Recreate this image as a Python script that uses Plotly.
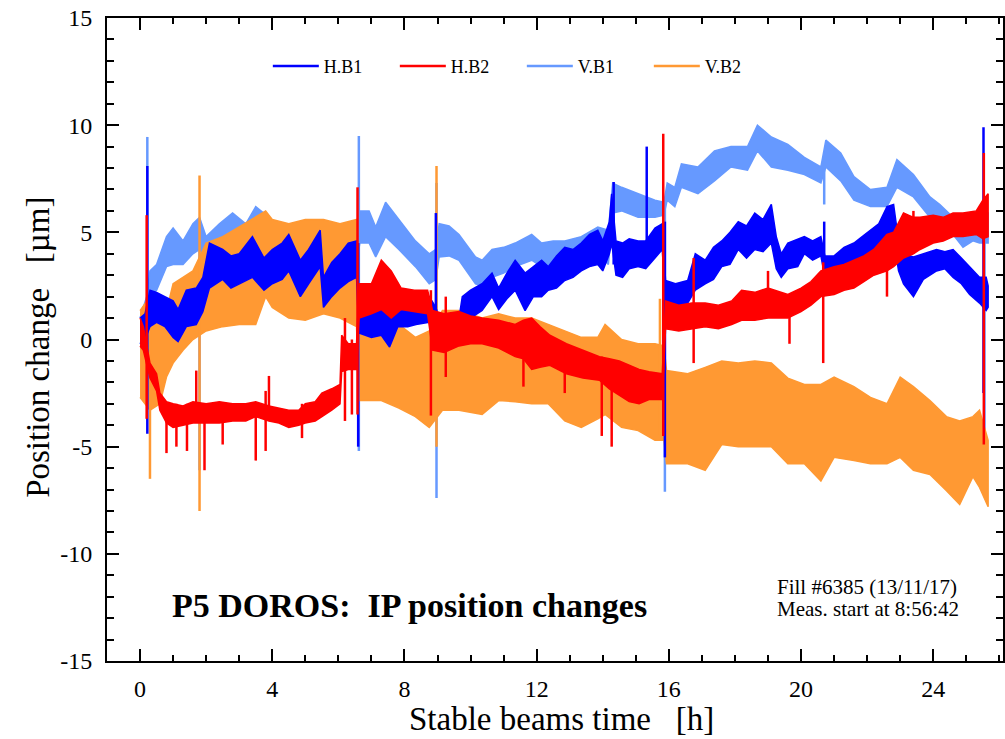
import plotly.graph_objects as go

# ---------------- data ----------------
# Each noisy trace is described by its envelope: time [h], lower and upper value [um]
hb1_t = [0.0, 0.15, 0.3, 0.5, 0.75, 1.0, 1.15, 1.4, 1.7, 1.9, 2.1, 2.5, 2.75, 3.0, 3.4, 3.75, 4.0, 4.3, 4.5,
         4.85, 5.1, 5.45, 5.55, 5.8, 6.05, 6.3, 6.55, 6.62, 7.0, 7.3, 7.55, 7.8, 8.1, 8.35, 8.75, 8.95, 9.05,
         9.4, 9.65, 9.75, 10.0, 10.35, 10.65, 10.85, 11.1, 11.35, 11.65, 11.9, 12.15, 12.35, 12.6, 12.85,
         13.1, 13.35, 13.6, 13.85, 14.0, 14.2, 14.27, 14.4, 14.6, 14.8, 15.07, 15.3, 15.58, 15.8, 15.9,
         16.2, 16.57, 16.8, 17.1, 17.35, 17.6, 17.85, 18.1, 18.35, 18.6, 18.85, 19.1, 19.25, 19.4, 19.6,
         19.9, 20.1, 20.35, 20.6, 20.72, 21.0, 21.3, 21.6, 21.85, 22.1, 22.35, 22.6, 22.8, 22.95, 23.1,
         23.4, 23.7, 24.1, 24.35, 24.6, 24.85, 25.1, 25.4, 25.6, 25.66]
hb1_lo = [-0.2, 0.0, 0.6, 0.8, 0.6, 0.1, -0.1, 0.6, 0.7, 1.3, 2.4, 2.8, 2.4, 2.6, 2.9, 2.3, 2.6, 2.8, 3.2,
          2.0, 2.6, 3.4, 1.5, 2.0, 2.4, 2.7, 2.9, 0.3, 0.1, 0.2, -0.35, 0.6, 0.6, 0.7, 0.8, 0.5, -0.5,
          -0.4, -0.2, 0.7, 1.0, 1.35, 2.0, 1.4, 1.9, 2.3, 1.35, 2.0, 2.0, 2.3, 2.4, 2.75,
          2.9, 3.2, 3.4, 3.5, 3.2, 4.0, 4.5, 3.0, 2.9, 3.3, 3.4, 3.3, 3.8, 4.2, 1.7,
          1.6, 1.7, 2.3, 2.6, 2.8, 3.4, 3.5, 4.2, 3.8, 4.2, 4.1, 4.5, 3.3, 2.9, 3.3,
          3.4, 4.0, 3.7, 3.9, 2.9, 3.0, 3.3, 3.5, 3.7, 4.0, 4.1, 4.5, 4.7, 3.2, 2.6,
          2.0, 2.8, 3.2, 3.3, 2.9, 2.6, 2.1, 1.7, 1.35, 1.5]
hb1_hi = [1.0, 1.2, 2.3, 2.2, 2.0, 1.8, 1.4, 2.3, 2.4, 2.9, 4.5, 4.2, 3.9, 4.0, 4.8, 3.8, 4.2, 4.5, 4.9,
          3.7, 4.2, 5.1, 2.9, 3.6, 4.0, 4.5, 4.6, 1.6, 1.5, 1.6, 1.0, 1.5, 1.7, 1.5, 2.0, 1.5, 1.0,
          0.9, 1.0, 2.0, 2.3, 2.6, 3.1, 2.4, 3.1, 3.7, 3.1, 3.4, 3.7, 3.4, 3.9, 4.3,
          4.2, 4.5, 4.9, 5.1, 4.6, 5.5, 6.8, 4.6, 4.5, 4.7, 4.6, 4.6, 5.2, 5.4, 2.75,
          2.6, 2.75, 4.0, 3.7, 4.3, 4.6, 5.0, 5.5, 5.3, 5.9, 5.6, 6.3, 4.8, 4.0, 4.5,
          4.7, 4.8, 4.6, 4.8, 3.9, 3.9, 4.3, 4.5, 4.8, 5.1, 5.4, 6.2, 6.3, 4.6, 4.0,
          3.85, 4.0, 4.2, 4.1, 4.2, 3.8, 3.4, 2.9, 2.9, 2.5]

hb2_t = [0.0, 0.1, 0.3, 0.5, 0.6, 0.8, 1.0, 1.3, 1.6, 2.0, 2.4, 2.8, 3.2, 3.5, 3.9, 4.2, 4.5, 4.8, 5.0, 5.3,
         5.5, 5.8, 6.05, 6.1, 6.3, 6.55, 6.63, 7.0, 7.3, 7.6, 7.9, 8.3, 8.7, 8.85, 9.2, 9.65, 10.0, 10.35,
         10.85, 11.35, 11.6, 11.85, 12.1, 12.4, 12.9, 13.4, 13.9, 14.2, 14.5, 14.8, 15.1, 15.4, 15.8,
         15.9, 16.3, 16.7, 17.1, 17.5, 17.9, 18.2, 18.6, 19.0, 19.4, 19.6, 20.0, 20.3, 20.6, 21.0, 21.3,
         21.6, 21.9, 22.2, 22.6, 22.8, 23.1, 23.4, 23.6, 24.0, 24.3, 24.6, 24.9, 25.3, 25.5, 25.66]
hb2_lo = [-0.3, -0.5, -1.8, -2.4, -3.3, -3.9, -4.1, -4.0, -3.9, -3.9, -3.9, -3.8, -3.8, -3.6, -3.8, -3.9,
          -4.1, -4.0, -3.9, -3.8, -3.6, -3.3, -3.0, -1.5, -1.4, -1.4, 1.0, 1.2, 1.4, 1.0, 1.4, 1.3, 1.2,
          -0.5, -0.6, -0.3, -0.2, -0.2, -0.4, -0.8, -0.9, -1.4, -1.3, -1.2, -1.6, -1.8, -1.9, -2.3, -2.6,
          -2.9, -3.0, -2.8, -2.8, 0.5, 0.4, 0.5, 0.6, 0.5, 0.7, 0.9, 0.9, 1.0, 1.0, 1.0, 1.3, 1.6, 2.0,
          2.1, 2.3, 2.4, 2.7, 3.0, 3.2, 3.4, 3.8, 4.0, 4.2, 4.5, 4.6, 4.8, 4.8, 4.9, 4.7, 4.8]
hb2_hi = [1.0, 0.6, -1.1, -1.6, -2.5, -2.9, -3.0, -3.1, -2.9, -3.0, -2.9, -3.0, -3.0, -2.9, -3.1, -3.2,
          -3.3, -3.3, -3.0, -2.9, -2.5, -2.3, -2.1, 0.2, -0.2, -0.2, 2.6, 2.6, 3.7, 3.2, 2.4, 2.3, 2.3,
          1.35, 1.2, 1.3, 1.1, 1.0, 0.9, 0.7, 0.9, 1.0, 0.6, 0.2, -0.2, -0.5, -0.8, -0.9, -1.0,
          -1.2, -1.4, -1.5, -1.6, 1.8, 1.6, 1.7, 1.7, 1.6, 1.8, 2.3, 2.2, 2.4, 2.2, 2.1, 2.4, 2.7, 3.2,
          3.4, 3.5, 3.7, 3.9, 4.2, 4.9, 5.0, 5.9, 5.7, 5.7, 5.8, 5.7, 5.9, 5.9, 6.0, 6.5, 6.8]

vb1_t = [0.0, 0.2, 0.3, 0.5, 0.8, 1.0, 1.3, 1.6, 1.8, 2.0, 2.4, 2.8, 3.2, 3.5, 3.9, 4.2, 4.5, 5.0, 5.5, 6.0,
         6.55, 6.65, 6.93, 7.13, 7.43, 7.83, 8.33, 8.75, 8.95, 9.05, 9.35, 9.65, 10.15, 10.35, 10.65, 11.0,
         11.35, 11.85, 12.15, 12.5, 12.85, 13.35, 13.85, 14.17, 14.3, 14.57, 15.07, 15.58, 15.85, 15.95,
         16.18, 16.38, 16.88, 17.38, 17.88, 18.38, 18.68, 19.1, 19.6, 20.1, 20.6, 20.75, 21.2, 21.6, 22.1,
         22.6, 22.9, 23.4, 23.9, 24.2, 24.6, 24.9, 25.2, 25.4, 25.66]
vb1_lo = [-0.2, 0.5, 2.0, 2.3, 3.4, 3.5, 3.5, 4.0, 4.2, 3.85, 4.2, 4.6, 4.3, 4.8, 4.5, 4.3, 3.8, 3.2, 3.0,
          3.2, 3.5, 4.5, 4.5, 3.85, 4.8, 4.2, 3.4, 2.6, 2.8, 3.85, 3.9, 3.7, 2.6, 2.5, 2.9, 3.1, 3.4, 3.7,
          3.4, 3.5, 3.5, 3.85, 4.0, 3.5, 5.9, 6.0, 5.7, 5.7, 5.8, 6.5, 6.2, 7.1, 6.8, 7.4, 8.05, 7.9, 8.8,
          8.05, 7.9, 7.7, 7.3, 8.05, 7.4, 6.5, 6.2, 6.2, 7.1, 6.65, 5.7, 5.6, 4.9, 4.3, 4.6, 4.5, 4.5]
vb1_hi = [1.0, 2.0, 3.2, 3.5, 4.8, 5.2, 4.6, 5.4, 5.7, 4.8, 5.4, 5.9, 5.4, 6.2, 5.7, 5.3, 5.0, 4.6, 4.5,
          4.6, 5.0, 6.0, 6.0, 5.25, 6.4, 5.6, 4.6, 4.0, 4.2, 5.4, 5.3, 4.9, 3.85, 3.7, 4.2, 4.3, 4.5, 4.9,
          4.5, 4.6, 4.6, 4.8, 5.25, 5.1, 7.3, 7.1, 6.8, 6.5, 6.4, 7.3, 7.1, 8.2, 8.05, 8.8, 9.0, 9.0, 10.0,
          9.45, 9.1, 8.5, 8.05, 9.3, 8.7, 7.6, 7.0, 7.1, 8.4, 7.7, 6.65, 6.3, 5.7, 5.5, 5.6, 5.9, 5.9]

vb2_t = [0.0, 0.3, 0.6, 0.8, 1.0, 1.3, 1.6, 2.0, 2.5, 3.0, 3.5, 3.8, 4.0, 4.5, 5.0, 5.55, 6.05, 6.55, 6.63,
         7.3, 7.83, 8.33, 8.75, 9.15, 9.65, 10.35, 10.85, 11.35, 11.85, 12.35, 12.85, 13.35, 13.85, 14.07,
         14.57, 15.07, 15.58, 15.85, 15.93, 16.57, 17.1, 17.6, 18.1, 18.6, 19.1, 19.6, 20.1, 20.6, 21.0,
         21.6, 22.1, 22.6, 23.0, 23.4, 23.9, 24.4, 24.8, 25.2, 25.4, 25.66]
vb2_lo = [-2.7, -3.3, -3.0, -1.75, -1.1, -0.5, 0.0, 0.4, 0.6, 0.7, 0.7, 2.0, 1.5, 1.0, 0.9, 1.2, 1.0, 0.6,
          -2.85, -2.85, -3.2, -3.6, -4.1, -3.3, -3.3, -3.5, -2.85, -2.9, -3.0, -3.0, -3.8, -4.1, -3.7, -3.5,
          -4.1, -4.25, -4.7, -4.7, -5.8, -5.8, -6.1, -4.9, -5.0, -5.0, -5.0, -5.8, -5.8, -6.6, -5.5, -5.65,
          -5.8, -5.8, -5.5, -6.1, -6.3, -7.05, -7.7, -6.4, -6.9, -7.8]
vb2_hi = [1.35, 2.0, 1.0, 1.35, 2.6, 2.9, 3.2, 4.5, 4.8, 5.25, 5.7, 6.0, 5.6, 5.4, 5.6, 5.6, 5.4, 5.6, 1.0,
          1.0, 0.7, 0.1, 0.4, 1.35, 1.35, 1.0, 1.2, 1.0, 1.0, 0.7, 0.4, 0.1, 0.1, 0.7, 0.0, -0.2, -0.2,
          -0.3, -1.45, -1.6, -1.3, -1.0, -1.1, -1.0, -1.1, -1.8, -2.1, -2.1, -1.75, -2.2, -2.7, -3.0, -1.75,
          -2.2, -2.85, -3.6, -3.8, -3.6, -3.3, -4.7]

# isolated spikes: time, lowest value, highest value
hb1_spk_t = [0.22, 6.6, 8.95, 14.33, 15.33, 15.88, 20.7, 25.52]
hb1_spk_lo = [-4.4, -5.0, -0.5, 3.5, 3.5, -5.5, 3.5, -2.5]
hb1_spk_hi = [8.1, 4.5, 5.9, 7.35, 9.0, 5.5, 5.5, 9.9]

hb2_spk_t = [0.2, 0.8, 1.1, 1.42, 1.7, 1.95, 2.5, 3.5, 3.8, 3.9, 4.9, 6.2, 6.41, 6.58, 8.8, 9.25, 11.6,
             12.85, 13.97, 14.27, 15.83, 16.75, 19.0, 19.65, 20.67, 22.6, 23.4, 25.53]
hb2_spk_lo = [-3.7, -5.3, -5.0, -5.2, -3.5, -6.1, -4.9, -5.65, -5.2, -3.5, -4.6, -3.8, -3.5, -3.5, -3.55,
              -1.75, -2.2, -2.5, -4.5, -5.0, -4.5, -1.1, 1.0, -0.2, -1.1, 2.0, 4.0, -4.9]
hb2_spk_hi = [5.8, -3.0, -3.0, -3.0, -1.45, -3.0, -3.0, -3.0, -2.4, -1.7, -3.0, 1.0, 0.0, 7.1, 2.3, 2.0,
              0.9, -0.2, -0.8, -1.0, 9.6, 3.8, 3.2, 2.1, 3.6, 4.9, 6.0, 8.7]

vb1_spk_t = [0.22, 1.8, 6.62, 8.97, 15.88, 20.7, 25.55]
vb1_spk_lo = [-1.0, -6.1, -5.2, -7.4, -7.1, 6.3, -5.2]
vb1_spk_hi = [9.45, 5.0, 9.5, 7.3, 6.5, 8.0, 5.5]

vb2_spk_t = [0.3, 1.8, 8.97, 15.73]
vb2_spk_lo = [-6.5, -8.0, -5.0, -4.5]
vb2_spk_hi = [2.0, 7.65, 8.1, 1.9]

names = ["H.B1", "H.B2", "V.B1", "V.B2"]
colors = ["#0000FF", "#FF0000", "#6699FF", "#FF9933"]

y_tick_vals = [-15, -10, -5, 0, 5, 10, 15]
y_tick_text = ["-15", "-10", "-5", "0", "5", "10", "15"]
x_tick_vals = [0, 4, 8, 12, 16, 20, 24]
x_tick_text = ["0", "4", "8", "12", "16", "20", "24"]

series = {
    "H.B1": (hb1_t, hb1_lo, hb1_hi, hb1_spk_t, hb1_spk_lo, hb1_spk_hi),
    "H.B2": (hb2_t, hb2_lo, hb2_hi, hb2_spk_t, hb2_spk_lo, hb2_spk_hi),
    "V.B1": (vb1_t, vb1_lo, vb1_hi, vb1_spk_t, vb1_spk_lo, vb1_spk_hi),
    "V.B2": (vb2_t, vb2_lo, vb2_hi, vb2_spk_t, vb2_spk_lo, vb2_spk_hi),
}

FONT = "Liberation Serif"

fig = go.Figure()
draw_order = ["V.B1", "V.B2", "H.B1", "H.B2"]
for nm in draw_order:
    i = names.index(nm)
    col = colors[i]
    t, lo, hi, st, slo, shi = series[nm]
    # band (envelope of the noisy signal)
    fig.add_trace(go.Scatter(
        x=list(t) + list(t)[::-1], y=list(hi) + list(lo)[::-1],
        fill="toself", fillcolor=col, mode="lines",
        line=dict(color=col, width=1.5), showlegend=False, hoverinfo="skip"))
    # spikes
    sx, sy = [], []
    for tt, a, b in zip(st, slo, shi):
        sx += [tt, tt, None]
        sy += [a, b, None]
    fig.add_trace(go.Scatter(
        x=sx, y=sy, mode="lines", name=nm, legendrank=i + 1,
        line=dict(color=col, width=2.5)))

axis_common = dict(
    showline=True, linecolor="black", linewidth=2, mirror="ticks",
    ticks="inside", tickcolor="black", tickwidth=2, ticklen=12,
    showgrid=False, zeroline=False,
    tickfont=dict(family=FONT, size=24, color="black"),
)

fig.update_xaxes(range=[-1.0, 26.11], tickmode="array", tickvals=x_tick_vals, ticktext=x_tick_text,
                 minor=dict(dtick=1, tick0=0, ticks="inside", ticklen=6, tickwidth=2, tickcolor="black"),
                 ticklabelstandoff=5, **axis_common)
fig.update_yaxes(range=[-15, 15], tickmode="array", tickvals=y_tick_vals, ticktext=y_tick_text,
                 minor=dict(dtick=1, tick0=0, ticks="inside", ticklen=7, tickwidth=2, tickcolor="black"),
                 ticklabelstandoff=8, **axis_common)

fig.add_annotation(text="P5 DOROS:  IP position changes", x=0.9, y=-12.42, xref="x", yref="y",
                   xanchor="left", yanchor="middle", showarrow=False,
                   font=dict(family=FONT, size=34, color="black", weight="bold"))
fig.add_annotation(text="Fill #6385 (13/11/17)", x=19.2, y=-11.53, xref="x", yref="y",
                   xanchor="left", yanchor="middle", showarrow=False,
                   font=dict(family=FONT, size=21, color="black"))
fig.add_annotation(text="Meas. start at 8:56:42", x=19.2, y=-12.56, xref="x", yref="y",
                   xanchor="left", yanchor="middle", showarrow=False,
                   font=dict(family=FONT, size=21, color="black"))
fig.add_annotation(text="Stable beams time   [h]", x=0.507, y=-0.09, xref="paper", yref="paper",
                   xanchor="center", yanchor="middle", showarrow=False,
                   font=dict(family=FONT, size=33, color="black"))
fig.add_annotation(text="Position change   [µm]", x=-0.077, y=0.487, xref="paper", yref="paper",
                   xanchor="center", yanchor="middle", showarrow=False, textangle=-90,
                   font=dict(family=FONT, size=33, color="black"))

fig.update_layout(
    width=1005, height=739,
    margin=dict(l=107, r=0, t=18, b=78, pad=0),
    paper_bgcolor="white", plot_bgcolor="white",
    legend=dict(orientation="h", x=0.1795, y=0.925, xanchor="left", yanchor="middle",
                font=dict(family=FONT, size=18, color="black"),
                entrywidth=66, entrywidthmode="pixels", itemwidth=46,
                bgcolor="rgba(0,0,0,0)", traceorder="normal"),
    showlegend=True,
)

fig.write_html("out.html")
